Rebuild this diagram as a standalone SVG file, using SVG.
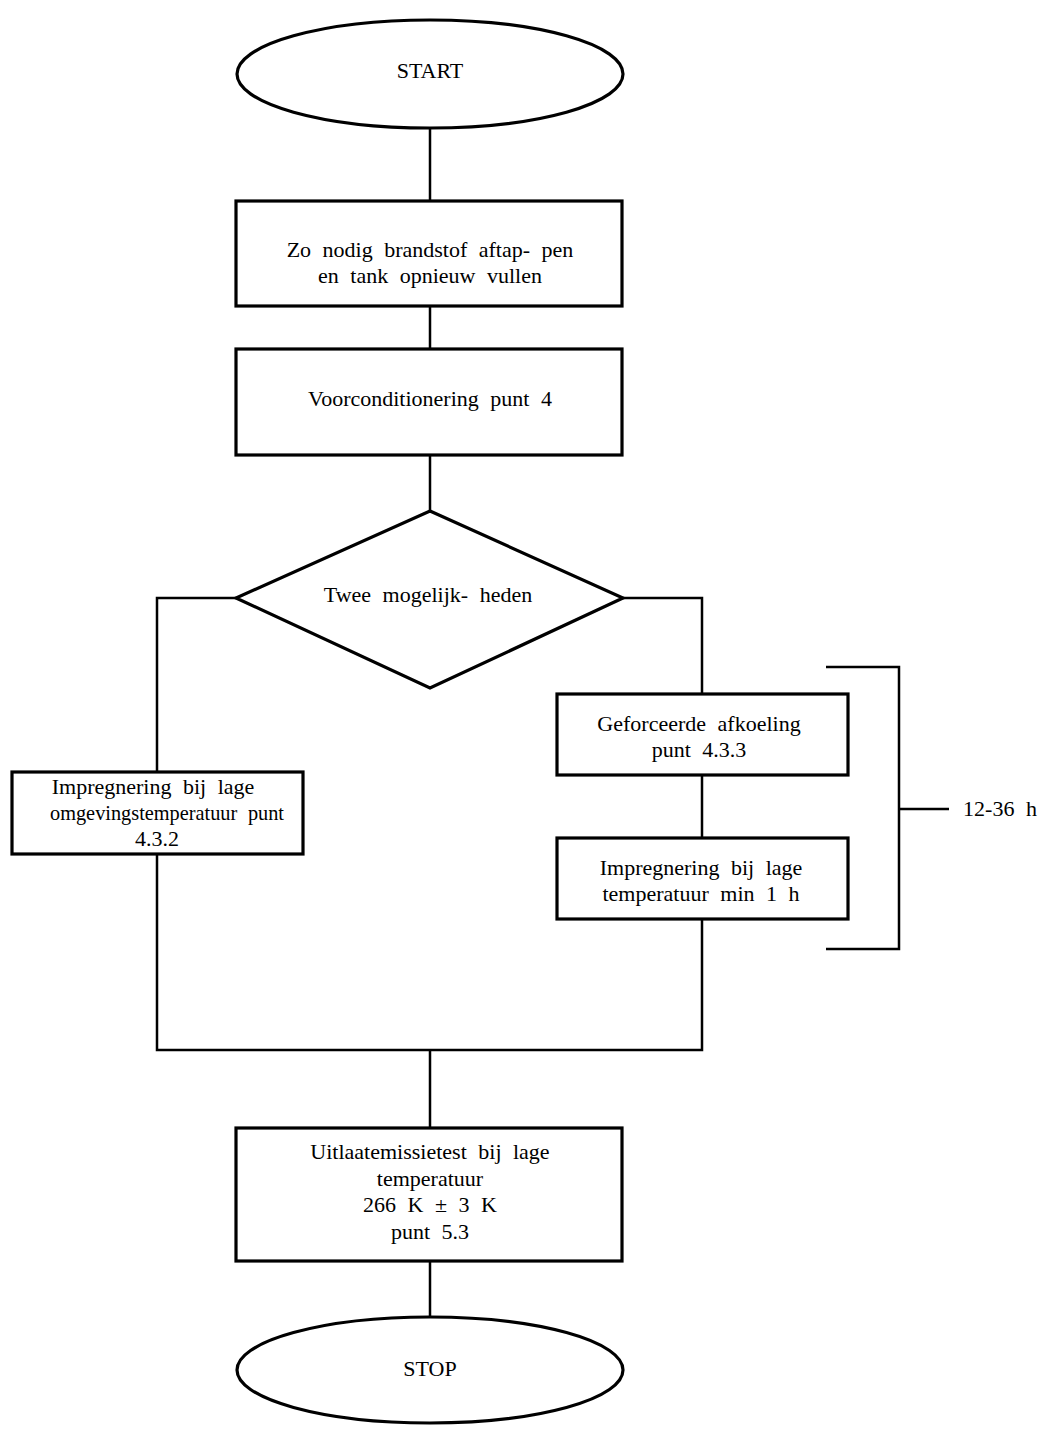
<svg xmlns="http://www.w3.org/2000/svg" width="1054" height="1432" viewBox="0 0 1054 1432">
<style>
.shape{fill:#fff;stroke:#000;stroke-width:3.2}
.conn{fill:none;stroke:#000;stroke-width:2.5}
text{font-family:"Liberation Serif","Times New Roman",serif;font-size:22px;fill:#000;text-anchor:middle;word-spacing:6px}
</style>
<rect width="1054" height="1432" fill="#fff"/>
<g id="connectors">
<path class="conn" d="M430 128V201M430 306V349M430 455V511"/>
<path class="conn" d="M236 598H157V772M157 854V1050H702V919M702 838V775M702 694V598H623"/>
<path class="conn" d="M430 1050V1128M430 1261V1317"/>
<path class="conn" d="M826 667H899V949H826M899 809H949"/>
</g>
<g id="start"><ellipse class="shape" cx="430" cy="74" rx="193" ry="54"/><text x="430" y="78">START</text></g>
<g id="drain"><rect class="shape" x="236" y="201" width="386" height="105"/><text x="430" y="257">Zo nodig brandstof aftap- pen</text><text x="430" y="283">en tank opnieuw vullen</text></g>
<g id="precond"><rect class="shape" x="236" y="349" width="386" height="106"/><text x="430" y="406">Voorconditionering punt 4</text></g>
<g id="decision"><polygon class="shape" points="430,511 623,598 430,688 236,598"/><text x="428" y="602">Twee mogelijk- heden</text></g>
<g id="soak-ambient"><rect class="shape" x="12" y="772" width="291" height="82"/><text x="153" y="794">Impregnering bij lage</text><text x="167" y="820" textLength="234" lengthAdjust="spacingAndGlyphs">omgevingstemperatuur punt</text><text x="157" y="846">4.3.2</text></g>
<g id="forced-cool"><rect class="shape" x="557" y="694" width="291" height="81"/><text x="699" y="731">Geforceerde afkoeling</text><text x="699" y="757">punt 4.3.3</text></g>
<g id="soak-low"><rect class="shape" x="557" y="838" width="291" height="81"/><text x="701" y="875">Impregnering bij lage</text><text x="701" y="901">temperatuur min 1 h</text></g>
<g id="duration"><text x="1000" y="816">12-36 h</text></g>
<g id="test"><rect class="shape" x="236" y="1128" width="386" height="133"/><text x="430" y="1159">Uitlaatemissietest bij lage</text><text x="430" y="1186">temperatuur</text><text x="430" y="1212">266 K ± 3 K</text><text x="430" y="1239">punt 5.3</text></g>
<g id="stop"><ellipse class="shape" cx="430" cy="1370" rx="193" ry="53"/><text x="430" y="1376">STOP</text></g>
</svg>
